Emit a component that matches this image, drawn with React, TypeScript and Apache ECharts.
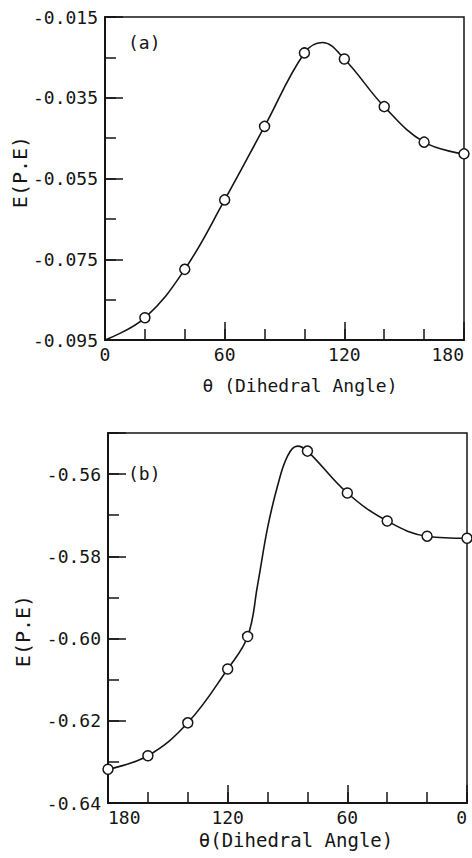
import React, { useEffect, useRef } from "react";
import * as echarts from "echarts";

// ---- Data ----
// (a) upper panel
const topTheta = [20, 40, 60, 80, 100, 120, 140, 160, 180];
const topE = [-0.0895, -0.0775, -0.0603, -0.0421, -0.0239, -0.0254, -0.0372, -0.046, -0.0489];
const topCurveTheta = [0, 20, 40, 60, 80, 100, 109, 120, 140, 160, 180];
const topCurveE = [-0.095, -0.0895, -0.0775, -0.0603, -0.0421, -0.0239, -0.0213, -0.0254, -0.0372, -0.046, -0.0489];

// (b) lower panel
const bottomTheta = [180, 160, 140, 120, 110, 80, 60, 40, 20, 0];
const bottomE = [-0.6318, -0.6285, -0.6205, -0.6074, -0.5995, -0.5544, -0.5646, -0.5714, -0.5751, -0.5756];
const bottomCurveTheta = [180, 160, 140, 120, 110, 105, 100, 95, 90, 85, 80, 60, 40, 20, 0];
const bottomCurveE = [-0.6318, -0.6285, -0.6205, -0.6074, -0.5995, -0.587, -0.5731, -0.5629, -0.5556, -0.5532, -0.5544, -0.5646, -0.5714, -0.5751, -0.5756];

// axis settings
const xMin = 0;
const xMax = 180;
const xMajor = 60;
const xMinor = 20;
const topYMin = -0.095;
const topYMax = -0.015;
const bottomYMin = -0.64;
const bottomYMax = -0.55;
const yMajor = 0.02;
const yMinor = 0.01;

const panelLabels = ["(a)", "(b)"];
const xTitles = ["θ (Dihedral Angle)", "θ(Dihedral Angle)"];
const yTitle = "E(P.E)";

const FONT = "'DejaVu Sans Mono', monospace";
const INK = "#151515";

const zip = (a: number[], b: number[]) => a.map((v, i) => [v, b[i]]);

export default function App() {
  const ref = useRef<HTMLDivElement>(null);

  useEffect(() => {
    if (!ref.current) return;
    const chart = echarts.init(ref.current, null, { renderer: "svg" });

    const labelStyle = { fontFamily: FONT, fontSize: 18, color: INK };

    const majorX = (gridIndex: number, inverse: boolean) => ({
      type: "value",
      gridIndex,
      position: "bottom",
      min: xMin,
      max: xMax,
      interval: xMajor,
      inverse,
      axisLine: { show: true, onZero: false, lineStyle: { color: INK, width: 2 } },
      axisTick: { show: true, inside: true, length: 18, lineStyle: { color: INK, width: 1.5 } },
      axisLabel: {
        ...labelStyle,
        margin: 5,
        alignMinLabel: inverse ? "right" : "center",
        alignMaxLabel: inverse ? "left" : "right",
        showMinLabel: true,
        showMaxLabel: true,
      },
      splitLine: { show: false },
    });
    const minorX = (gridIndex: number, inverse: boolean) => ({
      type: "value",
      gridIndex,
      position: "bottom",
      min: xMin,
      max: xMax,
      interval: xMinor,
      inverse,
      axisLine: { show: false, onZero: false },
      axisTick: { show: true, inside: true, length: 11, lineStyle: { color: INK, width: 1.5 } },
      axisLabel: { show: false },
      splitLine: { show: false },
    });
    const majorY = (gridIndex: number, min: number, max: number, digits: number) => ({
      type: "value",
      gridIndex,
      position: "left",
      min,
      max,
      interval: yMajor,
      axisLine: { show: true, onZero: false, lineStyle: { color: INK, width: 2 } },
      axisTick: { show: true, inside: true, length: 18, lineStyle: { color: INK, width: 1.5 } },
      axisLabel: {
        ...labelStyle,
        margin: 7,
        showMinLabel: true,
        showMaxLabel: true,
        formatter: (v: number) => {
          const steps = (v - min) / yMajor;
          return Math.abs(steps - Math.round(steps)) > 0.01 ? "" : v.toFixed(digits);
        },
      },
      splitLine: { show: false },
    });
    const minorY = (gridIndex: number, min: number, max: number) => ({
      type: "value",
      gridIndex,
      position: "left",
      min,
      max,
      interval: yMinor,
      axisLine: { show: false, onZero: false },
      axisTick: { show: true, inside: true, length: 11, lineStyle: { color: INK, width: 1.5 } },
      axisLabel: { show: false },
      splitLine: { show: false },
    });

    const curve = (xi: number, yi: number, data: number[][]) => ({
      type: "line",
      xAxisIndex: xi,
      yAxisIndex: yi,
      data,
      smooth: 0.4,
      showSymbol: false,
      symbol: "none",
      lineStyle: { color: INK, width: 1.6 },
      z: 3,
    });
    const markers = (xi: number, yi: number, data: number[][]) => ({
      type: "scatter",
      xAxisIndex: xi,
      yAxisIndex: yi,
      data,
      symbol: "circle",
      symbolSize: 10,
      itemStyle: { color: "#ffffff", borderColor: INK, borderWidth: 1.5, opacity: 1 },
      z: 5,
    });

    chart.setOption({
      animation: false,
      backgroundColor: "#ffffff",
      grid: [
        { left: 105, top: 17, width: 359, height: 323, show: true, borderColor: INK, borderWidth: 1.5, backgroundColor: "transparent" },
        { left: 108, top: 433, width: 359, height: 370, show: true, borderColor: INK, borderWidth: 1.5, backgroundColor: "transparent" },
      ],
      xAxis: [majorX(0, false), minorX(0, false), majorX(1, true), minorX(1, true)],
      yAxis: [
        majorY(0, topYMin, topYMax, 3),
        minorY(0, topYMin, topYMax),
        majorY(1, bottomYMin, bottomYMax, 2),
        minorY(1, bottomYMin, bottomYMax),
      ],
      series: [
        curve(0, 0, zip(topCurveTheta, topCurveE)),
        markers(0, 0, zip(topTheta, topE)),
        curve(2, 2, zip(bottomCurveTheta, bottomCurveE)),
        markers(2, 2, zip(bottomTheta, bottomE)),
      ],
      graphic: [
        { type: "text", left: 128, top: 33, style: { text: panelLabels[0], font: `18px ${FONT}`, fill: INK } },
        { type: "text", left: 128, top: 464, style: { text: panelLabels[1], font: `18px ${FONT}`, fill: INK } },
        {
          type: "text",
          x: 300,
          y: 385,
          style: { text: xTitles[0], font: `18px ${FONT}`, fill: INK, align: "center", verticalAlign: "middle" },
        },
        {
          type: "text",
          x: 296,
          y: 840,
          style: { text: xTitles[1], font: `19px ${FONT}`, fill: INK, align: "center", verticalAlign: "middle" },
        },
        {
          type: "text",
          x: 20,
          y: 172,
          rotation: Math.PI / 2,
          style: { text: yTitle, font: `20px ${FONT}`, fill: INK, align: "center", verticalAlign: "middle" },
        },
        {
          type: "text",
          x: 23,
          y: 631,
          rotation: Math.PI / 2,
          style: { text: yTitle, font: `20px ${FONT}`, fill: INK, align: "center", verticalAlign: "middle" },
        },
      ],
    });

    return () => chart.dispose();
  }, []);

  return (
    <div
      ref={ref}
      style={{ position: "absolute", left: 0, top: 0, width: 472, height: 858, background: "#fff" }}
    />
  );
}
